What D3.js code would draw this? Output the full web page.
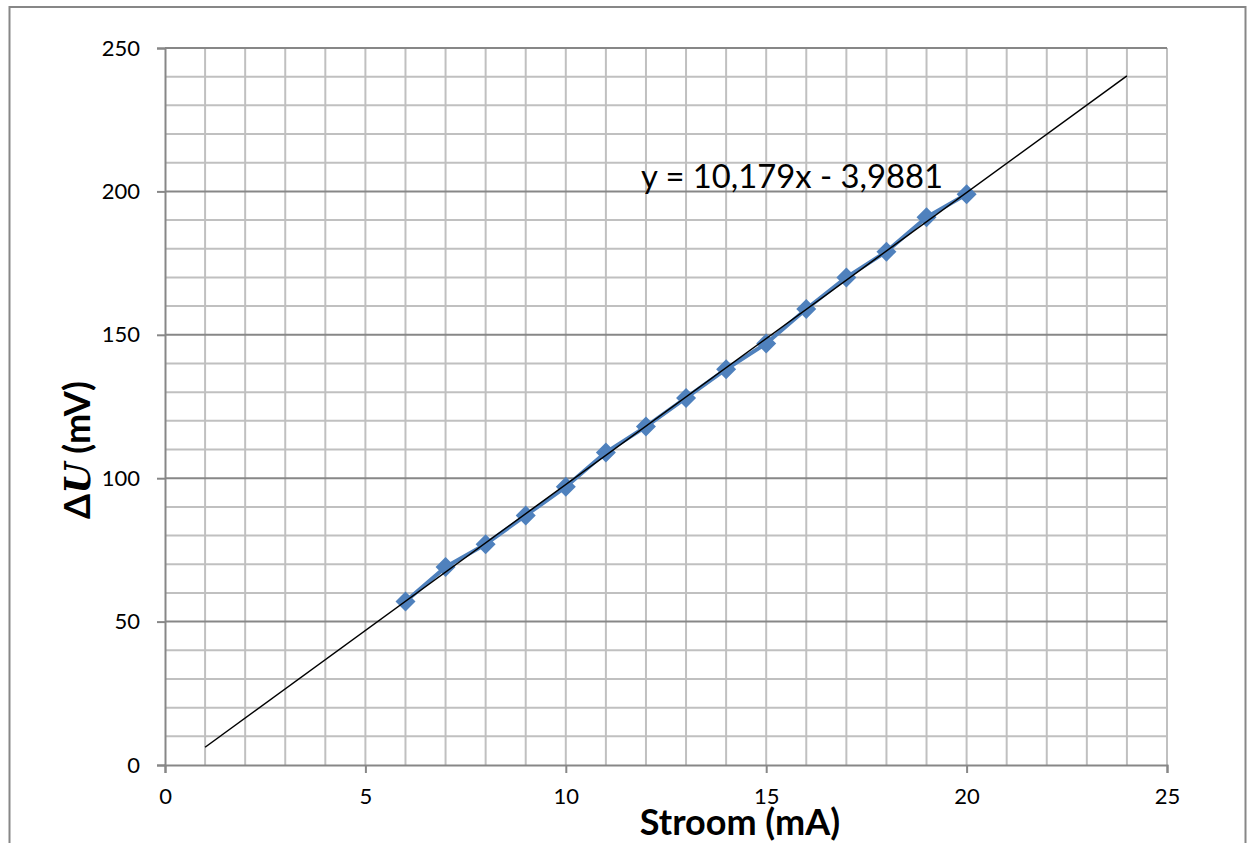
<!DOCTYPE html>
<html><head><meta charset="utf-8">
<script src="https://cdn.jsdelivr.net/npm/d3@7"></script>
<style>body{margin:0;background:#fff}svg{display:block}</style>
</head><body>
<svg id="c" width="1250" height="843"></svg>
<script>
const current = [6,7,8,9,10,11,12,13,14,15,16,17,18,19,20];
const deltaU = [57,69,77,87,97,109,118,128,138,147,159,170,179,191,199];
const trendSlope = 10.179, trendIntercept = -3.9881;
const trendRange = [1,24];
const xTicks = [0,5,10,15,20,25];
const yTicks = [0,50,100,150,200,250];
const equationLabel = "y = 10,179x - 3,9881";
const xTitle = "Stroom (mA)";

const svg = d3.select("#c");
const F = "Lato, 'Open Sans', sans-serif";
const L = 165, R = 1167, T = 48, B = 765;
const x = d3.scaleLinear().domain([0,25]).range([L,R]);
const y = d3.scaleLinear().domain([0,250]).range([B,T]);

// outer border
svg.append("path").attr("d",`M9.5,900 V7 H1245.5 V900`).attr("fill","none").attr("stroke","#878787").attr("stroke-width",2);

// gridlines
const g = svg.append("g");
g.selectAll(".vx").data(d3.range(1,26)).join("line")
  .attr("x1",d=>x(d)).attr("x2",d=>x(d)).attr("y1",T).attr("y2",B)
  .attr("stroke","#c0c0c0").attr("stroke-width",2);
g.selectAll(".hy").data(d3.range(10,251,10).filter(v=>v%50)).join("line")
  .attr("y1",d=>y(d)).attr("y2",d=>y(d)).attr("x1",L).attr("x2",R)
  .attr("stroke","#c0c0c0").attr("stroke-width",2);
g.selectAll(".hm").data(yTicks.filter(v=>v>0)).join("line")
  .attr("y1",d=>y(d)).attr("y2",d=>y(d)).attr("x1",L).attr("x2",R)
  .attr("stroke","#878787").attr("stroke-width",2);

// axes
const yAxis = svg.append("g").attr("transform",`translate(${L},0)`)
  .call(d3.axisLeft(y).tickValues(yTicks).tickSize(8).tickPadding(17));
const xAxis = svg.append("g").attr("transform",`translate(0,${B})`)
  .call(d3.axisBottom(x).tickValues(xTicks).tickSize(8).tickPadding(15));
[yAxis,xAxis].forEach(a=>{
  a.select(".domain").attr("stroke","#878787").attr("stroke-width",2);
  a.selectAll(".tick line").attr("stroke","#878787").attr("stroke-width",2);
  a.selectAll("text").attr("font-family",F).attr("font-size",22).attr("fill","#000");
});

// data line and markers
const line = d3.line().x((d,i)=>x(current[i])).y(d=>y(d));
svg.append("path").datum(deltaU).attr("d",line).attr("fill","none")
  .attr("stroke","#4F81BD").attr("stroke-width",4).attr("stroke-linejoin","round");
const h = 10;
svg.selectAll(".m").data(deltaU).join("path")
  .attr("d",(d,i)=>{const cx=x(current[i]), cy=y(d);return `M${cx},${cy-h}L${cx+h},${cy}L${cx},${cy+h}L${cx-h},${cy}Z`;})
  .attr("fill","#4F81BD");

// trendline
svg.append("line")
  .attr("x1",x(trendRange[0])).attr("y1",y(trendSlope*trendRange[0]+trendIntercept))
  .attr("x2",x(trendRange[1])).attr("y2",y(trendSlope*trendRange[1]+trendIntercept))
  .attr("stroke","#000").attr("stroke-width",1.5);

// equation
const eq = svg.append("text").attr("x",641).attr("y",188).attr("font-family",F)
  .attr("font-size",30).attr("fill","#000").text(equationLabel);
const w = eq.node().getComputedTextLength();
eq.attr("font-size",30*302/w);

// titles
svg.append("text").attr("x",740).attr("y",835).attr("text-anchor","middle")
  .attr("font-family",F).attr("font-weight","bold").attr("font-size",36).text(xTitle);
const yt = svg.append("text").attr("transform","translate(90,450) rotate(-90)")
  .attr("text-anchor","middle").attr("font-family",F).attr("font-weight","bold").attr("font-size",36);
yt.append("tspan").text("Δ");
yt.append("tspan").attr("font-family","'DejaVu Serif', serif").attr("font-style","italic").attr("font-weight","bold").text("U");
yt.append("tspan").text(" (mV)");
</script>
</body></html>
